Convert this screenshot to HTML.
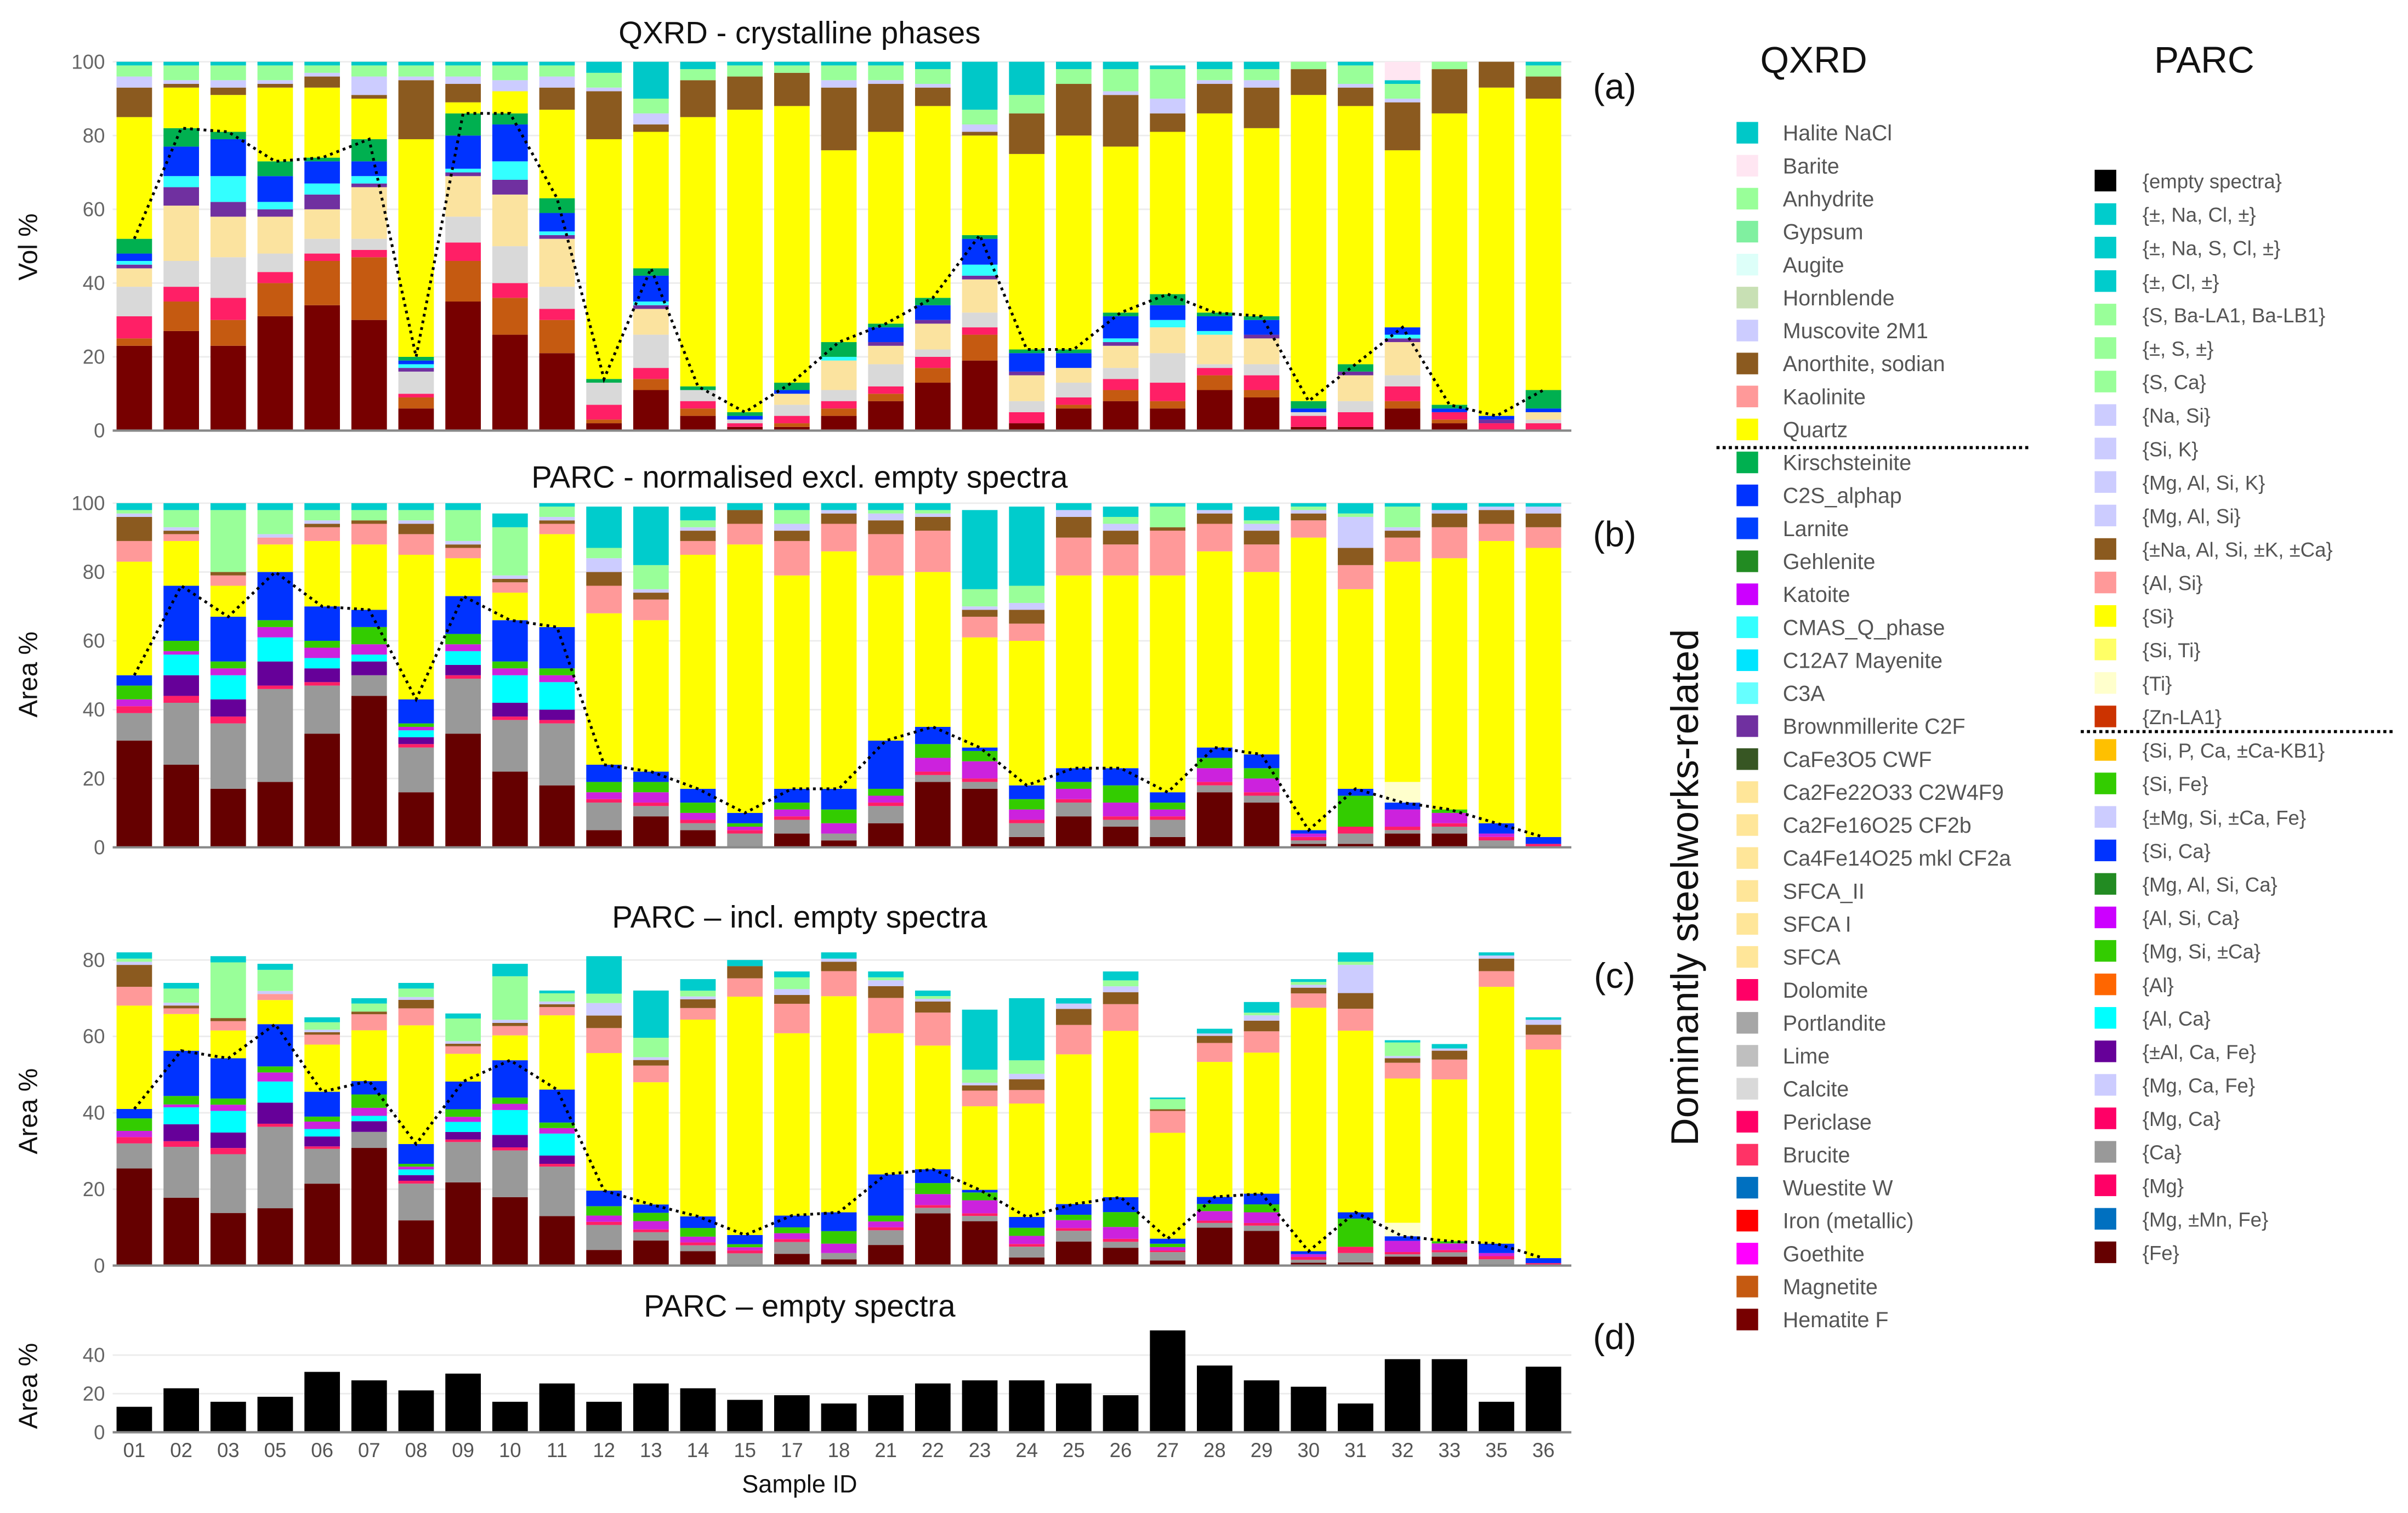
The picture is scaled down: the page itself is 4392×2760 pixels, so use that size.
<!DOCTYPE html>
<html><head><meta charset="utf-8"><style>
html,body{margin:0;padding:0;background:#fff;}
svg{display:block;}
text{font-family:"Liberation Sans",sans-serif;}
</style></head><body>
<svg id="chart" width="4392" height="2760" viewBox="0 0 1560 980.3" xmlns="http://www.w3.org/2000/svg">
<rect x="0" y="0" width="1560" height="980.3" fill="#fff"/>
<g id="plots"></g>
<g id="legend"></g>
</svg>
<script>
const samples = ["01","02","03","05","06","07","08","09","10","11","12","13","14","15","17","18","21","22","23","24","25","26","27","28","29","30","31","32","33","35","36"];

// Panel (a) QXRD series (vol %)
const aHem    = [23,27,23,31,34,30,6,35,26,21,2,11,4,1,1,4,8,13,19,2,6,8,6,11,9,1,1,6,2,0,0];
const aMag    = [2,8,7,9,12,17,3,11,10,9,1,3,2,0,1,2,2,4,7,0,1,3,2,4,2,0,0,2,1,0,0];
const aPink   = [6,4,6,3,2,2,1,5,4,3,4,3,2,1,2,2,2,3,2,3,2,3,5,2,4,3,4,4,2,2,2];
const aGrey   = [8,7,11,5,4,3,6,7,10,6,6,9,3,1,3,3,6,2,4,3,4,3,8,1,3,1,3,3,0,0,1];
const aSfca   = [5,15,11,10,8,14,0,11,14,13,0,7,0,0,3,8,5,7,9,7,4,6,7,8,7,0,7,9,0,0,2];
const aPurple = [1,5,4,2,4,1,1,1,4,1,0,1,0,0,0,0,1,1,1,1,0,1,0,0,1,0,1,1,0,1,0];
const aCyan   = [1,3,7,2,3,2,1,1,5,1,0,1,0,0,0,1,0,0,3,0,0,1,2,1,0,0,0,1,0,0,0];
const aBlue   = [2,8,10,7,6,4,1,9,10,5,0,7,0,1,1,0,4,4,7,5,4,6,4,4,4,1,0,2,1,1,1];
const aGreen  = [4,5,2,4,1,6,1,6,3,4,1,2,1,1,2,4,1,2,1,1,1,1,3,1,1,2,2,0,1,0,5];
const aQuartz = [33,11,10,20,19,11,59,3,6,24,65,37,73,82,75,52,52,52,27,53,58,45,44,54,51,83,70,48,79,89,79];
const aAnorth = [8,1,2,1,3,1,16,5,0,6,13,2,10,9,9,17,13,5,1,11,14,14,5,8,11,7,5,13,12,7,6];
const aMusc   = [3,1,2,1,1,5,1,2,3,3,1,3,0,0,0,2,1,1,2,0,0,1,4,1,2,0,1,1,0,0,0];
const aLgreen = [3,4,4,4,2,3,3,3,4,3,4,4,3,3,2,4,4,4,4,5,4,6,8,3,3,2,5,4,2,0,3];
const aHalite = [1,1,1,1,1,1,1,1,1,1,3,10,2,1,1,1,1,2,13,9,2,2,1,2,2,0,1,1,0,0,1];
const aBarite = [0,0,0,0,0,0,0,0,0,0,0,0,0,0,0,0,0,0,0,0,0,0,0,0,0,0,0,5,0,0,0];

// Panel (b) PARC normalised series (area %)
const bFe     = [31,24,17,19,33,44,16,33,22,18,5,9,5,0,4,2,7,19,17,3,9,6,3,16,13,1,1,4,4,0,0];
const bCa     = [8,18,19,27,14,6,13,16,15,18,8,3,2,4,4,2,5,2,2,4,4,2,5,2,2,1,3,1,2,2,0];
const bMg     = [2,2,2,1,1,0,1,1,1,1,1,1,1,1,1,0,1,1,1,1,1,1,1,1,1,1,2,1,1,1,1];
const bPurple = [0,6,5,7,4,4,2,3,4,3,0,0,0,0,0,0,0,0,0,0,0,0,0,0,0,0,0,0,0,0,0];
const bAlCa   = [0,6,7,7,3,2,2,4,8,8,0,0,0,0,0,0,0,0,0,0,0,0,0,0,0,0,0,0,0,0,0];
const bMisc   = [2,1,2,3,3,3,1,2,2,2,2,3,2,1,2,3,2,4,5,3,3,4,2,4,4,1,0,5,3,1,0];
const bGreen  = [4,3,2,2,2,5,1,3,2,2,3,3,3,1,2,4,2,4,3,3,2,5,2,3,3,0,9,0,1,0,0];
const bBlue   = [3,16,13,14,10,5,7,11,12,12,5,3,4,3,4,6,14,5,1,4,4,5,3,3,4,1,2,2,0,3,2];
const bTi     = [0,0,0,0,0,0,0,0,0,0,0,0,0,0,0,0,0,0,0,0,0,0,0,0,0,0,0,6,0,0,0];
const bQuartz = [33,13,9,8,19,19,42,11,8,27,44,44,68,78,62,69,48,45,32,42,56,56,63,57,53,85,58,64,73,82,84];
const bAlSi   = [6,2,3,2,4,6,6,3,3,3,8,6,4,6,10,8,12,12,6,5,11,9,13,8,8,5,7,7,9,5,6];
const bBrown  = [7,1,1,0,1,1,3,1,1,1,4,2,3,4,3,3,4,4,2,4,6,4,1,3,4,2,5,2,4,4,4];
const bLav    = [1,1,0,1,1,0,1,1,1,1,4,1,1,0,2,1,2,1,1,2,2,2,0,1,2,1,9,1,1,1,2];
const bLgreen = [1,5,18,7,3,3,3,9,14,3,3,7,2,0,4,0,1,1,5,5,0,2,6,0,1,1,1,6,0,0,0];
const bTeal   = [2,2,2,2,2,2,2,2,4,1,12,17,4,2,2,2,2,2,23,23,2,3,1,2,4,1,3,1,2,1,1];

// Panel (c) bar totals incl. empty spectra (area %)
const cTotal  = [82,74,81,79,65,70,74,66,79,72,81,72,75,80,77,82,77,72,67,70,70,77,44,62,69,75,82,59,58,82,65];

// Panel (d) empty spectra (area %)
const dEmpty  = [13.2,22.8,15.8,18.4,31.3,26.9,21.7,30.4,15.8,25.3,15.8,25.3,22.8,16.8,19.2,14.9,19.2,25.3,26.9,26.9,25.3,19.2,52.8,34.6,26.9,23.6,14.9,37.9,37.9,15.8,34];

const aTicks = [0,20,40,60,80,100];
const bTicks = [0,20,40,60,80,100];
const cTicks = [0,20,40,60,80];
const dTicks = [0,20,40];

const NS = "http://www.w3.org/2000/svg";
const plots = document.getElementById("plots");
function mk(tag, attrs, parent){
  const e = document.createElementNS(NS, tag);
  for (const k in attrs) e.setAttribute(k, attrs[k]);
  (parent||plots).appendChild(e);
  return e;
}
const X0 = 87, DX = 30.43, BW = 23, XL = 73, XR = 1018;
function xc(i){ return X0 + i*DX; }

function drawAxes(name, yFn, ticks){
  const g = mk("g", {});
  
  
  ticks.forEach(t=>{
    const y = yFn(t);
    if (t>0){
      const gl = mk("line", {x1:XL, x2:XR, y1:y, y2:y, stroke:"#ececec", "stroke-width":1}, g);
      
      
    }
    const tl = mk("text", {x:68, y:y+4.5, "text-anchor":"end", "font-size":13, fill:"#666"}, g);
    tl.textContent = t;
    
    
  });
}
function drawStack(name, yFn, series, colors, scale, lineCount){
  const g = mk("g", {});
  
  
  const pts = [];
  samples.forEach((s,i)=>{
    let cum = 0, sw = 0;
    const k = scale ? scale[i] : 1;
    series.forEach((arr,si)=>{
      const v = arr[i]*k;
      if (v>0){
        const r = mk("rect", {x:xc(i)-BW/2, y:yFn(cum+v), width:BW, height:Math.max(0,yFn(cum)-yFn(cum+v)), fill:colors[si]}, g);
        
        
      }
      cum += v;
      if (si === lineCount-1) sw = cum;
    });
    pts.push(xc(i)+","+yFn(sw));
  });
  const axis = mk("line", {x1:XL, x2:XR, y1:yFn(0), y2:yFn(0), stroke:"#888", "stroke-width":1.5});
  
  
  if (lineCount > 0){
    const pl = mk("polyline", {points:pts.join(" "), fill:"none", stroke:"#000", "stroke-width":1.8, "stroke-dasharray":"1.8 2.6"});
    
    
  }
}
function label(txt, x, y, size, name, opts){
  const t = mk("text", Object.assign({x:x, y:y, "font-size":size, "text-anchor":"middle", fill:"#111"}, opts||{}));
  t.textContent = txt;
  
  
  return t;
}

// Panel a
const ya = v => 279 - v*2.39;
drawAxes("panel-a", ya, aTicks);
drawStack("panel-a", ya,
  [aHem,aMag,aPink,aGrey,aSfca,aPurple,aCyan,aBlue,aGreen,aQuartz,aAnorth,aMusc,aLgreen,aHalite,aBarite],
  ["#770000","#c55a11","#ff1f66","#d9d9d9","#fbe39f","#7030a0","#33ffff","#0033ff","#00b050","#ffff00","#8b5a1f","#ccccff","#99ff99","#00c8c8","#ffe6f2"], null, 9);
label("QXRD - crystalline phases", 518, 28, 20, "panel-a-title");
label("Vol %", 24, 160, 17, "panel-a-y-title", {transform:"rotate(-90 24 160)"});
label("(a)", 1046, 64, 23, "panel-a-tag");

// Panel b
const yb = v => 549 - v*2.23;
const bSeries = [bFe,bCa,bMg,bPurple,bAlCa,bMisc,bGreen,bBlue,bTi,bQuartz,bAlSi,bBrown,bLav,bLgreen,bTeal];
const bColors = ["#650000","#999999","#ff1f66","#660099","#00ffff","#cc22dd","#33cc00","#0033ff","#ffffcc","#ffff00","#ff9999","#8b5a1f","#ccccff","#99ff99","#00cccc"];
drawAxes("panel-b", yb, bTicks);
drawStack("panel-b", yb, bSeries, bColors, null, 8);
label("PARC - normalised excl. empty spectra", 518, 316, 20, "panel-b-title");
label("Area %", 24, 437, 17, "panel-b-y-title", {transform:"rotate(-90 24 437)"});
label("(b)", 1046, 354, 23, "panel-b-tag");

// Panel c
const yc = v => 820 - v*2.475;
const cScale = samples.map((s,i)=>{ let t=0; bSeries.forEach(a=>t+=a[i]); return cTotal[i]/t; });
drawAxes("panel-c", yc, cTicks);
drawStack("panel-c", yc, bSeries, bColors, cScale, 8);
label("PARC – incl. empty spectra", 518, 601, 20, "panel-c-title");
label("Area %", 24, 720, 17, "panel-c-y-title", {transform:"rotate(-90 24 720)"});
label("(c)", 1046, 640, 23, "panel-c-tag");

// Panel d
const yd = v => 928 - v*1.25;
drawAxes("panel-d", yd, dTicks);
drawStack("panel-d", yd, [dEmpty], ["#000"], null, 0);
label("PARC – empty spectra", 518, 853, 20, "panel-d-title");
label("Area %", 24, 898, 17, "panel-d-y-title", {transform:"rotate(-90 24 898)"});
label("(d)", 1046, 874, 23, "panel-d-tag");
samples.forEach((s,i)=>{
  label(s, xc(i), 944, 13, "x-tick-label", {fill:"#555"});
});
label("Sample ID", 518, 967, 16, "x-axis-title");

// Legend
const lg = document.getElementById("legend");
const qx = [["Halite NaCl","#00c8c8"],["Barite","#ffe6f2"],["Anhydrite","#99ff99"],["Gypsum","#80f0a0"],["Augite","#ddfff9"],["Hornblende","#c8e0b4"],["Muscovite 2M1","#ccccff"],["Anorthite, sodian","#8b5a1f"],["Kaolinite","#ff9999"],["Quartz","#ffff00"],["Kirschsteinite","#00b050"],["C2S_alphap","#0033ff"],["Larnite","#0040ff"],["Gehlenite","#228b22"],["Katoite","#cc00ff"],["CMAS_Q_phase","#33ffff"],["C12A7 Mayenite","#00e5ff"],["C3A","#66ffff"],["Brownmillerite C2F","#7030a0"],["CaFe3O5  CWF","#375623"],["Ca2Fe22O33 C2W4F9","#ffe699"],["Ca2Fe16O25 CF2b","#ffe699"],["Ca4Fe14O25 mkl CF2a","#ffe699"],["SFCA_II","#ffe699"],["SFCA I","#ffe699"],["SFCA","#ffe699"],["Dolomite","#ff0066"],["Portlandite","#a6a6a6"],["Lime","#bfbfbf"],["Calcite","#d9d9d9"],["Periclase","#ff0066"],["Brucite","#ff3366"],["Wuestite W","#0070c0"],["Iron (metallic)","#ff0000"],["Goethite","#ff00ff"],["Magnetite","#c55a11"],["Hematite F","#770000"]];
const pc = [["{empty spectra}","#000000"],["{±, Na, Cl, ±}","#00cccc"],["{±, Na, S, Cl, ±}","#00cccc"],["{±, Cl, ±}","#00cccc"],["{S, Ba-LA1, Ba-LB1}","#99ff99"],["{±, S, ±}","#99ff99"],["{S, Ca}","#99ff99"],["{Na, Si}","#ccccff"],["{Si, K}","#ccccff"],["{Mg, Al, Si, K}","#ccccff"],["{Mg, Al, Si}","#ccccff"],["{±Na, Al, Si, ±K, ±Ca}","#8b5a1f"],["{Al, Si}","#ff9999"],["{Si}","#ffff00"],["{Si, Ti}","#ffff66"],["{Ti}","#ffffcc"],["{Zn-LA1}","#cc3300"],["{Si, P, Ca, ±Ca-KB1}","#ffc000"],["{Si, Fe}","#33cc00"],["{±Mg, Si, ±Ca, Fe}","#ccccff"],["{Si, Ca}","#0033ff"],["{Mg, Al, Si, Ca}","#228b22"],["{Al, Si, Ca}","#cc00ff"],["{Mg, Si, ±Ca}","#33cc00"],["{Al}","#ff6600"],["{Al, Ca}","#00ffff"],["{±Al, Ca, Fe}","#660099"],["{Mg, Ca, Fe}","#ccccff"],["{Mg, Ca}","#ff0066"],["{Ca}","#999999"],["{Mg}","#ff0066"],["{Mg, ±Mn, Fe}","#0070c0"],["{Fe}","#650000"]];
function legendHead(txt, x){
  const t = mk("text", {x:x, y:47, "font-size":24, "text-anchor":"middle", fill:"#111"}, lg);
  t.textContent = txt;
  
  
}
legendHead("QXRD", 1175);
legendHead("PARC", 1428);
qx.forEach((e,i)=>{
  const y = 86 + i*21.36;
  const r = mk("rect", {x:1125, y:y-7, width:14, height:14, fill:e[1]}, lg);
  
  
  const t = mk("text", {x:1155, y:y+5, "font-size":14, fill:"#555"}, lg);
  t.textContent = e[0];
  
  
});
pc.forEach((e,i)=>{
  const y = 117 + i*21.7;
  const r = mk("rect", {x:1357, y:y-7, width:14, height:14, fill:e[1]}, lg);
  
  
  const t = mk("text", {x:1388, y:y+5, "font-size":13, fill:"#555", "font-family":"Liberation Mono, monospace"}, lg);
  t.textContent = e[0];
  
  
});
const s1 = mk("line", {x1:1112, x2:1315, y1:290, y2:290, stroke:"#000", "stroke-width":2, "stroke-dasharray":"2 2"}, lg);


const s2 = mk("line", {x1:1348, x2:1552, y1:474, y2:474, stroke:"#000", "stroke-width":2, "stroke-dasharray":"2 2"}, lg);


const dl = mk("text", {x:1100, y:575, "font-size":25, "text-anchor":"middle", fill:"#111", transform:"rotate(-90 1100 575)"}, lg);
dl.textContent = "Dominantly steelworks-related";


</script>
</body></html>
